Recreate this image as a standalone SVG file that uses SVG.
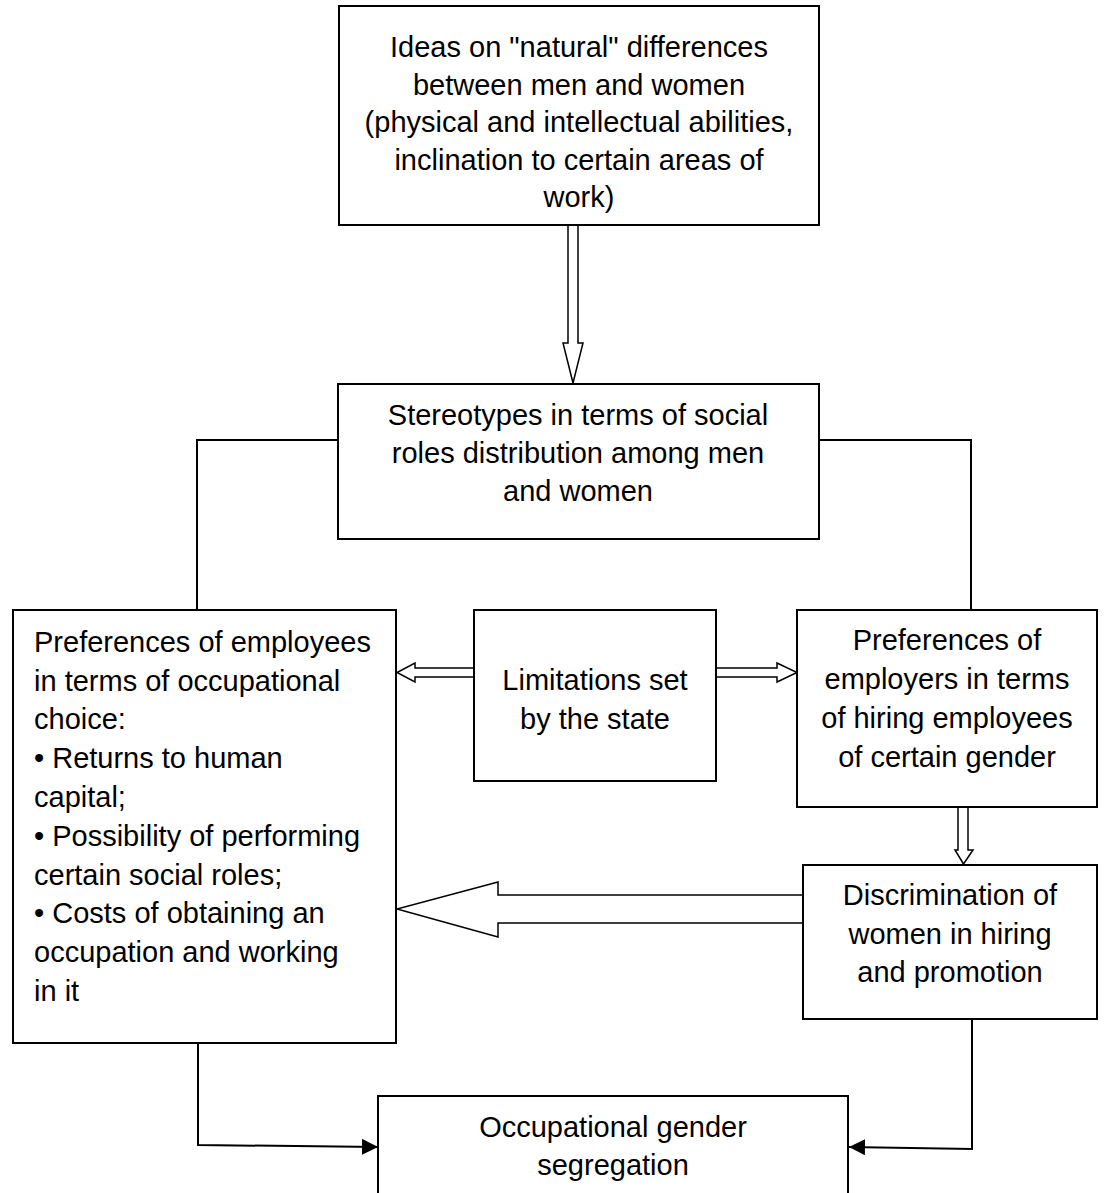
<svg xmlns="http://www.w3.org/2000/svg" width="1104" height="1193" viewBox="0 0 1104 1193">
<style>
.box{fill:#fff;stroke:#000;stroke-width:2}
.t{font-family:"Liberation Sans",Arial,sans-serif;font-size:29px;fill:#000}
.c{text-anchor:middle}
.ln{fill:none;stroke:#000;stroke-width:2}
.ba{fill:#fff;stroke:#000;stroke-width:1.5;stroke-linejoin:miter}
</style>
<defs>
<marker id="ah" markerWidth="16" markerHeight="16" refX="16" refY="8" orient="auto" markerUnits="userSpaceOnUse">
<path d="M0,0 L16,8 L0,16 Z" fill="#000"/>
</marker>
</defs>
<rect width="1104" height="1193" fill="#fff"/>

<g id="connectors">
<path class="ln" d="M338,440 H197 V610"/>
<path class="ln" d="M819,440 H971 V610"/>
<path class="ln" d="M198,1043 V1145 L378,1147" marker-end="url(#ah)"/>
<path class="ln" d="M972,1019 V1149 L849,1147" marker-end="url(#ah)"/>
<path class="ba" d="M568,225 V343 H563 L573,383 L583,343 H578 V225"/>
<path class="ba" d="M474,668 H415 V663 L397,672.5 L415,682 V677 H474"/>
<path class="ba" d="M716,668 H777 V663 L797,672.5 L777,682 V677 H716"/>
<path class="ba" d="M958,807 V850 H955 L963.5,864 L973,850 H968 V807"/>
<path class="ba" d="M803,895 H498 V882 L397,909 L498,937 V923 H803"/>
</g>

<g id="ideas">
<rect class="box" x="339" y="6" width="480" height="219"/>
<text class="t c" x="579" y="57">Ideas on "natural" differences</text>
<text class="t c" x="579" y="95">between men and women</text>
<text class="t c" x="579" y="132">(physical and intellectual abilities,</text>
<text class="t c" x="579" y="170">inclination to certain areas of</text>
<text class="t c" x="579" y="207">work)</text>
</g>

<g id="stereotypes">
<rect class="box" x="338" y="384" width="481" height="155"/>
<text class="t c" x="578" y="425">Stereotypes in terms of social</text>
<text class="t c" x="578" y="463">roles distribution among men</text>
<text class="t c" x="578" y="501">and women</text>
</g>

<g id="employees">
<rect class="box" x="13" y="610" width="383" height="433"/>
<text class="t" x="34" y="652">Preferences of employees</text>
<text class="t" x="34" y="691">in terms of occupational</text>
<text class="t" x="34" y="729">choice:</text>
<text class="t" x="34" y="768">• Returns to human</text>
<text class="t" x="34" y="807">capital;</text>
<text class="t" x="34" y="846">• Possibility of performing</text>
<text class="t" x="34" y="885">certain social roles;</text>
<text class="t" x="34" y="923">• Costs of obtaining an</text>
<text class="t" x="34" y="962">occupation and working</text>
<text class="t" x="34" y="1001">in it</text>
</g>

<g id="state">
<rect class="box" x="474" y="610" width="242" height="171"/>
<text class="t c" x="595" y="690">Limitations set</text>
<text class="t c" x="595" y="729">by the state</text>
</g>

<g id="employers">
<rect class="box" x="797" y="610" width="300" height="197"/>
<text class="t c" x="947" y="650">Preferences of</text>
<text class="t c" x="947" y="689">employers in terms</text>
<text class="t c" x="947" y="728">of hiring employees</text>
<text class="t c" x="947" y="767">of certain gender</text>
</g>

<g id="discrimination">
<rect class="box" x="803" y="865" width="294" height="154"/>
<text class="t c" x="950" y="905">Discrimination of</text>
<text class="t c" x="950" y="944">women in hiring</text>
<text class="t c" x="950" y="982">and promotion</text>
</g>

<g id="segregation">
<rect class="box" x="378" y="1096" width="470" height="120"/>
<text class="t c" x="613" y="1137">Occupational gender</text>
<text class="t c" x="613" y="1175">segregation</text>
</g>
</svg>
